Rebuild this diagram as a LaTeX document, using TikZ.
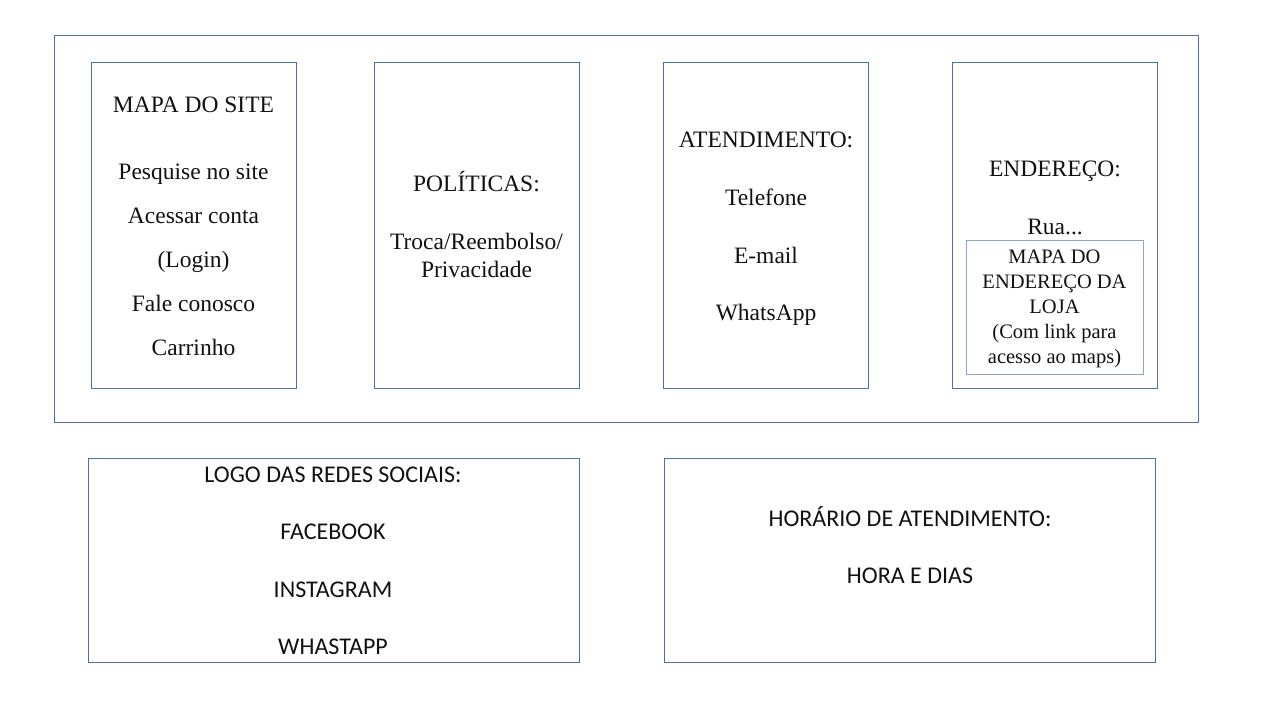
\documentclass[tikz,border=0pt]{standalone}
\usepackage{fontspec}
\setmainfont{Liberation Serif}
\newfontfamily\calfont{Carlito}
\usepackage{tikz}
\usetikzlibrary{positioning}
\definecolor{FigText}{HTML}{111111}
\definecolor{FigLine}{HTML}{4D70A6}
\definecolor{FigLight}{HTML}{8AA4CC}

\begin{document}
\begin{tikzpicture}[
x=1pt,
y=-1pt,
colbox/.style={
draw=FigLine,
line width=1pt,
minimum width=205pt,
minimum height=326pt,
inner sep=0pt
},
wideboxstyle/.style={
draw=FigLine,
line width=1pt,
minimum width=491pt,
minimum height=204pt,
inner sep=0pt
},
toptext/.style={
align=center,
inner sep=0pt,
font=\fontsize{23.5}{44}\selectfont
},
maptext/.style={
align=center,
inner sep=0pt,
font=\fontsize{20.5}{25}\selectfont
},
lowtext/.style={
align=center,
inner sep=0pt,
font=\calfont\fontsize{24}{57.5}\selectfont
},
every node/.style={text=FigText}
]
\useasboundingbox (0,0) rectangle (1280,720);

% Upper frame with the four columns
\draw[draw=FigLine, line width=1pt] (54,35) rectangle (1198,422);
\node[colbox] (site) at (193.5,225) {};
\node[colbox] (pol) at (477,225) {};
\node[colbox] (atend) at (766,225) {};
\node[colbox] (ender) at (1055,225) {};

\node[toptext] (siteTxt) at (193.5,226) {MAPA DO SITE\\[23pt]
Pesquise no site\\ Acessar conta\\ (Login)\\ Fale conosco\\ Carrinho};

\node[toptext, font=\fontsize{23.5}{28}\selectfont] (polTxt) at (476.5,225) {POLÍTICAS:\\[30pt]
Troca/Reembolso/\\ Privacidade};

\node[toptext, font=\fontsize{23.5}{57.7}\selectfont] (atendTxt) at (766,229) {ATENDIMENTO:\\
Telefone\\ E-mail\\ WhatsApp};

\node[toptext, font=\fontsize{23.5}{58}\selectfont] (enderTxt) at (1055,198) {ENDEREÇO:\\ Rua...};

% Store map inside the address column
\draw[draw=FigLight, line width=1pt] (966,240) rectangle (1143,374);
\node[maptext] (mapTxt) at (1054.5,309) {MAPA DO\\ ENDEREÇO DA\\ LOJA\\
(Com link para\\ acesso ao maps)};

% Lower boxes
\node[wideboxstyle] (redes) at (333.5,560) {};
\node[wideboxstyle] (horario) at (909.5,560) {};

\node[lowtext] (redesTxt) at (333,561) {LOGO DAS REDES SOCIAIS:\\
FACEBOOK\\ INSTAGRAM\\ WHASTAPP};
\node[lowtext] (horarioTxt) at (910,545) {HORÁRIO DE ATENDIMENTO:\\ HORA E DIAS};

\end{tikzpicture}
\end{document}
